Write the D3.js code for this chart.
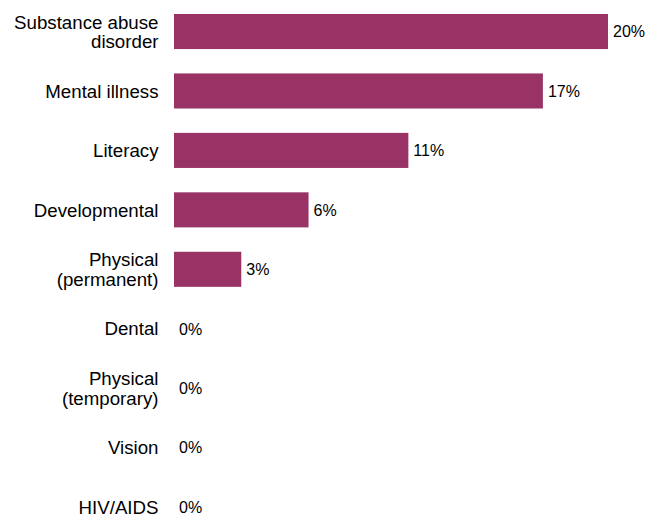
<!DOCTYPE html>
<html>
<head>
<meta charset="utf-8">
<script src="https://cdn.jsdelivr.net/npm/d3@7"></script>
<style>
  html, body { margin: 0; padding: 0; background: #fff; }
  svg { display: block; }
  text { font-family: "Liberation Sans", Arial, sans-serif; fill: #000; }
</style>
</head>
<body>
<script>
const categories = [
  ["Substance abuse", "disorder"],
  ["Mental illness"],
  ["Literacy"],
  ["Developmental"],
  ["Physical", "(permanent)"],
  ["Dental"],
  ["Physical", "(temporary)"],
  ["Vision"],
  ["HIV/AIDS"]
];
const values = [20, 17, 10.8, 6.2, 3.1, 0, 0, 0, 0];
const valueLabels = ["20%", "17%", "11%", "6%", "3%", "0%", "0%", "0%", "0%"];

const W = 646, H = 517;
const svg = d3.select("body").append("svg").attr("width", W).attr("height", H);

const idx = d3.range(categories.length);
const y = d3.scaleBand().domain(idx).range([1.8, 536.8]).paddingInner(0.41).paddingOuter(0.205);
const x = d3.scaleLinear().domain([0, 20]).range([174, 608]);

const g = svg.append("g");

g.selectAll("rect.bar").data(idx).join("rect")
  .attr("class", "bar")
  .attr("x", x(0))
  .attr("y", i => y(i))
  .attr("width", i => x(values[i]) - x(0))
  .attr("height", y.bandwidth())
  .attr("fill", "#993366");

g.selectAll("text.val").data(idx).join("text")
  .attr("class", "val")
  .attr("x", i => x(values[i]) + 5)
  .attr("y", i => y(i) + y.bandwidth() / 2)
  .attr("dy", "0.36em")
  .attr("font-size", "16px")
  .text(i => valueLabels[i]);

const lineH = 19.5;
const labels = g.selectAll("text.cat").data(idx).join("text")
  .attr("class", "cat")
  .attr("text-anchor", "end")
  .attr("font-size", "18.7px")
  .attr("y", i => y(i) + y.bandwidth() / 2);

labels.each(function(i) {
  const lines = categories[i];
  const n = lines.length;
  d3.select(this).selectAll("tspan").data(lines).join("tspan")
    .attr("x", 158.5)
    .attr("dy", (d, k) => k === 0 ? (0.36 * 18.7 - (n - 1) * lineH / 2) + "px" : lineH + "px")
    .text(d => d);
});
</script>
</body>
</html>
